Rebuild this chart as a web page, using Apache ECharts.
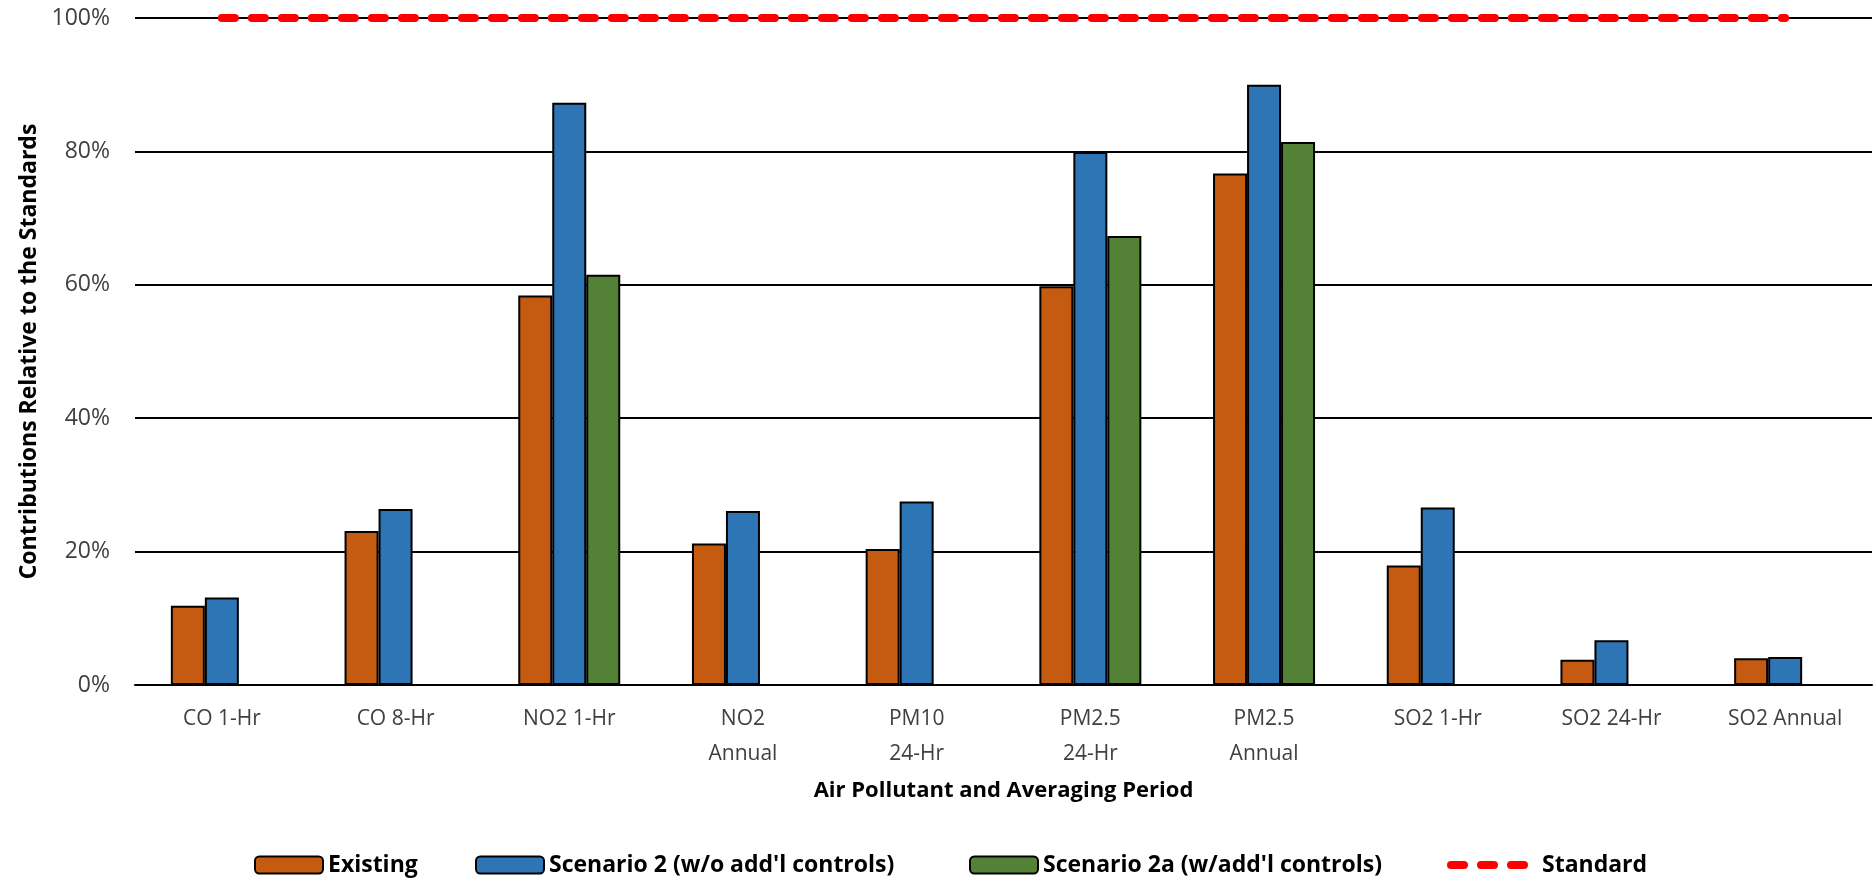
<!DOCTYPE html>
<html>
<head>
<meta charset="utf-8">
<script src="https://cdn.jsdelivr.net/npm/echarts@6/dist/echarts.min.js"></script>
<style>
html,body{margin:0;padding:0;background:#fff;}
#chart{width:1873px;height:883px;}
</style>
</head>
<body>
<div id="chart"></div>
<script>
const categories = ['CO 1-Hr', 'CO 8-Hr', 'NO2 1-Hr', 'NO2\nAnnual', 'PM10\n24-Hr', 'PM2.5\n24-Hr', 'PM2.5\nAnnual', 'SO2 1-Hr', 'SO2 24-Hr', 'SO2 Annual'];
const existing = [11.9, 23.1, 58.4, 21.2, 20.4, 59.8, 76.7, 17.9, 3.8, 4.0];
const scenario2 = [13.1, 26.4, 87.3, 26.1, 27.5, 79.9, 90.0, 26.6, 6.7, 4.2];
const scenario2a = [null, null, 61.5, null, null, 67.3, 81.4, null, null, null];
const standard = [100, 100, 100, 100, 100, 100, 100, 100, 100, 100];
const yTicks = [0, 20, 40, 60, 80, 100];
const seriesNames = ['Existing', 'Scenario 2 (w/o add\'l controls)', 'Scenario 2a (w/add\'l controls)', 'Standard'];

const chart = echarts.init(document.getElementById('chart'));
const FONT = '"Open Sans", "Noto Sans", sans-serif';
const barBorder = { borderColor: '#000', borderWidth: 2 };
const stdLine = { color: '#FF0000', width: 8, type: [13, 17], cap: 'round' };
const legendText = { fontFamily: FONT, fontWeight: 'bold', fontSize: 23, color: '#000', lineHeight: 32 };
const legendLefts = [249, 470, 964, 1442];

const legends = seriesNames.map(function (n, i) {
  const isLine = i === 3;
  return {
    data: [isLine ? { name: n, itemStyle: { opacity: 0 }, lineStyle: stdLine } : n],
    left: legendLefts[i], top: 844,
    itemWidth: isLine ? 86 : 68, itemHeight: 17,
    textStyle: legendText
  };
});

chart.setOption({
  backgroundColor: '#fff',
  animation: false,
  textStyle: { fontFamily: FONT },
  grid: { left: 135, right: 1, top: 18, bottom: 198, containLabel: false },
  legend: legends,
  xAxis: {
    type: 'category',
    data: categories,
    boundaryGap: true,
    name: 'Air Pollutant and Averaging Period',
    nameLocation: 'middle',
    nameGap: 95,
    nameTextStyle: { fontFamily: FONT, fontWeight: 'bold', fontSize: 22, color: '#000' },
    axisLine: { show: true, lineStyle: { color: '#000', width: 2 } },
    axisTick: { show: false },
    axisLabel: { fontFamily: FONT, fontSize: 21, color: '#404040', margin: 17, lineHeight: 35, interval: 0 }
  },
  yAxis: {
    type: 'value',
    min: yTicks[0], max: yTicks[yTicks.length - 1], interval: 20,
    name: 'Contributions Relative to the Standards',
    nameLocation: 'middle',
    nameGap: 94,
    nameTextStyle: { fontFamily: FONT, fontWeight: 'bold', fontSize: 23, color: '#000' },
    axisLine: { show: false },
    axisTick: { show: false },
    axisLabel: { formatter: '{value}%', fontFamily: FONT, fontSize: 23, color: '#404040', margin: 25 },
    splitLine: { show: true, lineStyle: { color: '#000', width: 2 } }
  },
  series: [
    {
      name: seriesNames[0], type: 'bar', data: existing,
      barWidth: 34, barGap: '0%',
      itemStyle: Object.assign({ color: '#C55A11' }, barBorder)
    },
    {
      name: seriesNames[1], type: 'bar', data: scenario2,
      barWidth: 34, barGap: '0%',
      itemStyle: Object.assign({ color: '#2E75B6' }, barBorder)
    },
    {
      name: seriesNames[2], type: 'bar', data: scenario2a,
      barWidth: 34, barGap: '0%',
      itemStyle: Object.assign({ color: '#538135' }, barBorder)
    },
    {
      name: seriesNames[3], type: 'line', data: standard,
      symbol: 'none', z: 5,
      itemStyle: { color: '#FF0000' },
      lineStyle: stdLine
    }
  ]
});
</script>
</body>
</html>
